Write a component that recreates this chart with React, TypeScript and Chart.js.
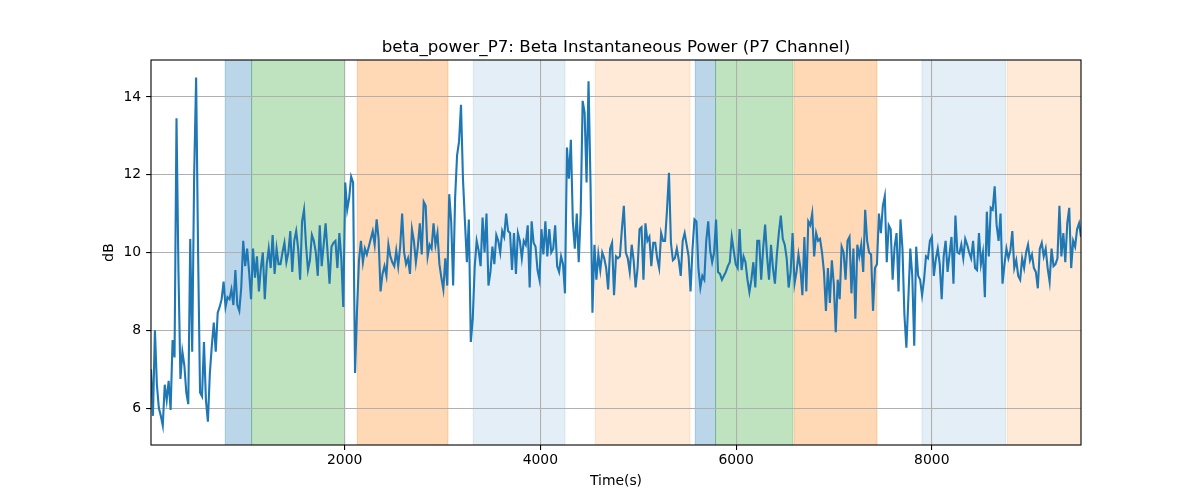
import React, { useEffect, useRef } from "react";
import { Chart, registerables } from "chart.js";

Chart.register(...registerables);

// sample times: first sample and spacing (seconds)
const T0 = 21;
const DT = 20.05;

// beta power in dB
const betaPower = [
  7.0, 5.8, 8.0, 6.6, 6.0, 5.8, 5.55, 6.6, 6.2, 6.7,
  5.95, 7.75, 7.3, 13.45, 9.5, 6.75, 7.45, 7.1, 6.4, 6.1,
  10.35, 7.45, 12.0, 14.5, 10.0, 6.4, 6.3, 7.7, 6.2, 5.65,
  6.9, 7.6, 8.2, 7.45, 8.45, 8.6, 8.8, 9.25, 8.6, 8.85,
  8.8, 9.05, 8.65, 9.55, 8.65, 8.5, 9.1, 10.3, 9.65, 10.1,
  9.5, 8.8, 10.1, 9.35, 9.9, 9.0, 9.6, 10.0, 8.8, 9.7,

  10.1, 9.6, 10.45, 9.45, 10.1, 9.7, 9.7, 10.0, 10.25, 9.75,
  10.0, 10.55, 9.5, 10.3, 10.55, 10.1, 9.3, 10.8, 11.1, 10.2,
  9.55, 9.8, 10.45, 10.3, 10.0, 9.4, 10.7, 9.65, 10.2, 10.75,
  10.0, 9.2, 10.15, 10.25, 10.3, 9.6, 10.5, 9.85, 8.6, 11.8,
  11.1, 11.4, 11.95, 11.8, 6.9, 8.5, 9.8, 10.3, 9.75, 10.1,
  9.95, 10.15, 10.35, 10.55, 10.2, 10.85, 10.35, 9.0, 9.45, 9.65,

  9.4, 10.2, 9.9, 9.75, 9.65, 10.05, 9.65, 10.15, 11.0, 10.0,
  9.7, 9.85, 9.45, 10.6, 10.3, 9.75, 10.15, 10.75, 9.95, 11.3,
  11.2, 9.9, 10.2, 10.1, 10.75, 10.2, 10.5, 9.7, 9.35, 9.05,
  9.85, 9.15, 11.5, 10.8, 9.15, 11.4, 12.5, 12.85, 13.8, 11.9,
  10.8, 9.75, 10.85, 7.7, 8.3, 9.65, 10.3, 10.05, 9.65, 10.9,
  10.0, 11.0, 9.15, 9.5, 10.15, 9.7, 10.45, 10.3, 10.0, 10.55,

  10.4, 11.0, 10.55, 10.5, 9.55, 10.5, 9.45, 10.5, 10.3, 9.85,
  10.3, 10.2, 10.7, 9.1, 10.8, 10.25, 10.15, 9.55, 9.3, 10.6,
  9.95, 10.8, 9.9, 10.6, 10.0, 10.1, 10.7, 9.65, 9.5, 9.9,
  9.7, 8.95, 12.7, 11.9, 12.9, 10.8, 10.1, 11.0, 9.75, 11.0,
  13.9, 13.6, 11.8, 14.4, 11.8, 8.45, 10.2, 9.3, 9.95, 9.55,
  10.0, 9.85, 9.6, 9.05, 10.1, 10.25, 8.9, 9.9, 9.85, 9.9,

  10.6, 11.2, 10.0, 9.85, 9.5, 10.2, 9.8, 9.1, 9.6, 10.6,
  10.65, 9.3, 10.75, 10.3, 10.4, 9.65, 10.25, 10.25, 9.85, 9.6,
  10.5, 10.3, 10.3, 11.1, 12.05, 10.25, 9.8, 9.85, 10.1, 9.8,
  9.4, 10.3, 10.5, 10.2, 9.9, 9.0, 10.1, 10.85, 10.8, 9.6,
  9.1, 9.4, 9.3, 10.3, 10.8, 10.05, 9.75, 10.0, 10.85, 9.5,
  9.45, 9.3, 9.4, 9.5, 9.65, 9.75, 10.4, 10.05, 9.7, 9.6,

  10.6, 9.55, 9.9, 9.75, 9.3, 8.98, 9.3, 9.75, 9.1, 10.3,
  10.3, 9.3, 10.1, 10.72, 9.9, 9.3, 10.2, 9.6, 9.2, 9.95,
  10.5, 10.95, 10.35, 10.2, 9.85, 9.1, 9.5, 10.5, 9.2, 9.5,
  9.95, 9.6, 8.9, 10.4, 9.0, 10.8, 10.7, 11.0, 9.9, 10.5,
  10.3, 10.35, 10.0, 9.5, 8.5, 9.6, 8.7, 9.8, 9.2, 7.95,
  9.3, 8.8, 10.15, 10.0, 9.3, 10.3, 10.4, 8.95, 10.1, 8.3,

  10.2, 9.9, 10.2, 9.5, 11.1, 10.3, 10.0, 9.95, 8.5, 9.6,
  9.7, 11.0, 10.5, 11.2, 11.45, 9.75, 10.7, 10.6, 9.3, 10.15,
  10.5, 9.0, 10.85, 10.1, 8.4, 7.55, 8.8, 10.1, 9.4, 7.6,
  10.15, 9.4, 9.3, 8.9, 9.3, 9.9, 9.85, 10.3, 10.4, 9.4,
  9.83, 10.1, 9.7, 8.8, 9.9, 10.3, 9.5, 9.95, 10.4, 9.2,
  10.95, 10.0, 9.97, 10.2, 9.85, 10.35, 10.2, 10.0, 9.85, 10.3,

  9.6, 9.55, 10.5, 9.7, 10.0, 8.85, 11.05, 9.9, 11.15, 11.1,
  11.7, 10.7, 10.3, 11.0, 9.2, 9.7, 10.1, 9.85, 10.05, 10.55,
  9.6, 9.8, 9.4, 9.3, 9.85, 9.6, 10.0, 10.2, 9.8, 9.95,
  9.6, 9.5, 9.08, 10.1, 10.25, 9.9, 10.1, 9.6, 9.25, 10.1,
  9.65, 9.7, 9.85, 11.2, 9.9, 10.5, 9.75, 10.75, 11.15, 9.6,
  10.3, 10.15, 10.6, 10.75, 10.4,
];

// shaded task phases (seconds)
const spanStarts = [780, 1049, 2129, 3314, 4562, 5583, 5790, 6594, 7899, 8770];
const spanEnds = [1049, 2000, 3056, 4251, 5529, 5790, 6581, 7439, 8753, 9600];
const spanPhases = ["blue", "green", "orange", "lightBlue", "lightOrange", "blue", "green", "orange", "lightBlue", "lightOrange"];

const xTicks = [2000, 4000, 6000, 8000];
const yTicks = [6, 8, 10, 12, 14];
const Y_MIN = 5.05;
const Y_MAX = 14.95;

const TITLE = "beta_power_P7: Beta Instantaneous Power (P7 Channel)";

const phaseColors: Record<string, string> = {
  blue: "rgba(31, 119, 180, 0.3)",
  green: "rgba(44, 160, 44, 0.3)",
  orange: "rgba(255, 127, 14, 0.3)",
  lightBlue: "rgba(31, 119, 180, 0.12)",
  lightOrange: "rgba(255, 127, 14, 0.16)",
};

const FONT = "'DejaVu Sans', sans-serif";

const spanPlugin = {
  id: "phaseSpans",
  beforeDraw(chart: any) {
    const { ctx, chartArea, scales } = chart;
    const { top, bottom, left, right } = chartArea;
    ctx.save();
    ctx.beginPath();
    ctx.rect(left, top, right - left, bottom - top);
    ctx.clip();
    spanStarts.forEach((start, i) => {
      const x0 = scales.x.getPixelForValue(start);
      const x1 = scales.x.getPixelForValue(spanEnds[i]);
      const color = phaseColors[spanPhases[i]];
      ctx.fillStyle = color;
      ctx.fillRect(x0, top, x1 - x0, bottom - top);
      ctx.strokeStyle = color;
      ctx.lineWidth = 1;
      ctx.beginPath();
      ctx.moveTo(x0, top);
      ctx.lineTo(x0, bottom);
      ctx.moveTo(x1, top);
      ctx.lineTo(x1, bottom);
      ctx.stroke();
    });
    ctx.restore();
  },
};

// axes frame and a title centred over the plot area, as matplotlib does
const framePlugin = {
  id: "axesFrame",
  afterDraw(chart: any) {
    const { ctx, chartArea } = chart;
    ctx.save();
    ctx.strokeStyle = "#000";
    ctx.lineWidth = 1.1;
    ctx.strokeRect(chartArea.left, chartArea.top, chartArea.right - chartArea.left, chartArea.bottom - chartArea.top);
    ctx.fillStyle = "#000";
    ctx.font = `16.7px ${FONT}`;
    ctx.textAlign = "center";
    ctx.textBaseline = "alphabetic";
    ctx.fillText(TITLE, (chartArea.left + chartArea.right) / 2, chartArea.top - 8.3);
    ctx.restore();
  },
};

const App: React.FC = () => {
  const chartRef = useRef<HTMLCanvasElement>(null);
  const chartInstance = useRef<Chart | null>(null);

  useEffect(() => {
    document.body.style.margin = "0";
    if (!chartRef.current) return;

    if (chartInstance.current) {
      chartInstance.current.destroy();
    }

    const points = betaPower.map((v, i) => ({ x: T0 + DT * i, y: v }));
    const xMax = T0 + DT * (betaPower.length - 1);

    chartInstance.current = new Chart(chartRef.current, {
      type: "line",
      data: {
        datasets: [
          {
            label: "beta_power_P7",
            data: points,
            borderColor: "#1f77b4",
            borderWidth: 2.1,
            pointRadius: 0,
            tension: 0,
            fill: false,
          },
        ],
      },
      options: {
        animation: false,
        responsive: true,
        maintainAspectRatio: false,
        layout: { padding: { left: 0, right: 119, top: 60, bottom: 0 } },
        plugins: {
          legend: { display: false },
          tooltip: { enabled: false },
          title: { display: false },
        },
        scales: {
          x: {
            type: "linear",
            min: T0,
            max: xMax,
            afterBuildTicks: (axis: any) => {
              axis.ticks = xTicks.map((value) => ({ value }));
            },
            afterFit: (axis: any) => {
              axis.height = 55;
            },
            ticks: {
              color: "#000",
              font: { family: FONT, size: 13.9 },
              padding: 2,
              maxRotation: 0,
              callback: (v: any) => String(v),
            },
            grid: {
              color: "#b0b0b0",
              lineWidth: 1.1,
              tickLength: 4.9,
              tickColor: "#000",
              tickWidth: 1.1,
            },
            border: { display: false },
            title: {
              display: true,
              text: "Time(s)",
              color: "#000",
              font: { family: FONT, size: 13.9, lineHeight: 1.2 },
              padding: { top: 0, bottom: 10.5 },
            },
          },
          y: {
            type: "linear",
            min: Y_MIN,
            max: Y_MAX,
            afterBuildTicks: (axis: any) => {
              axis.ticks = yTicks.map((value) => ({ value }));
            },
            afterFit: (axis: any) => {
              axis.width = 151;
            },
            ticks: {
              color: "#000",
              font: { family: FONT, size: 13.9 },
              padding: 4.9,
              callback: (v: any) => String(v),
            },
            grid: {
              color: "#b0b0b0",
              lineWidth: 1.1,
              tickLength: 4.9,
              tickColor: "#000",
              tickWidth: 1.1,
            },
            border: { display: false },
            title: {
              display: true,
              text: "dB",
              color: "#000",
              font: { family: FONT, size: 13.9, lineHeight: 1.2 },
              padding: { top: 101.5, bottom: 0 },
            },
          },
        },
      },
      plugins: [spanPlugin, framePlugin],
    });

    return () => {
      if (chartInstance.current) {
        chartInstance.current.destroy();
        chartInstance.current = null;
      }
    };
  }, []);

  return (
    <div style={{ width: 1200, height: 500 }}>
      <canvas ref={chartRef} />
    </div>
  );
};

export default App;
